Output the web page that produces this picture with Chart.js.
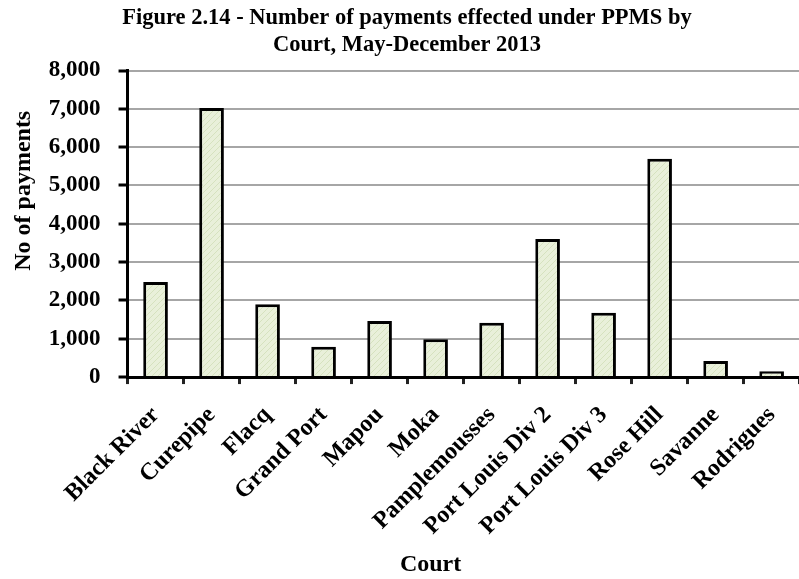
<!DOCTYPE html>
<html>
<head>
<meta charset="utf-8">
<script src="https://cdn.jsdelivr.net/npm/chart.js@4/dist/chart.umd.min.js"></script>
<style>
  html, body { margin: 0; padding: 0; background: #fff; overflow: hidden; }
  /* le graphique d'origine est coupé à droite : zone un peu plus large que la fenêtre */
  #wrap { width: 809px; height: 579px; }
</style>
</head>
<body>
<div id="wrap"><canvas id="chart"></canvas></div>
<script>
// Données
const courts = ['Black River', 'Curepipe', 'Flacq', 'Grand Port', 'Mapou', 'Moka',
  'Pamplemousses', 'Port Louis Div 2', 'Port Louis Div 3', 'Rose Hill', 'Savanne', 'Rodrigues'];
const payments = [2480, 7020, 1900, 790, 1460, 990, 1420, 3600, 1680, 5700, 420, 150];
const yTicks = [0, 1000, 2000, 3000, 4000, 5000, 6000, 7000, 8000];

const fontFamily = "'Liberation Serif', 'Times New Roman', serif";

// Motif hachuré vert pâle pour les barres
function hatch() {
  const c = document.createElement('canvas');
  c.width = 6; c.height = 6;
  const g = c.getContext('2d');
  g.fillStyle = '#e9f0da';
  g.fillRect(0, 0, 6, 6);
  g.strokeStyle = '#d6e2bf';
  g.lineWidth = 1;
  g.beginPath();
  g.moveTo(0, 6); g.lineTo(6, 0);
  g.moveTo(-3, 3); g.lineTo(3, -3);
  g.moveTo(3, 9); g.lineTo(9, 3);
  g.stroke();
  return g.createPattern(c, 'repeat');
}

const ctx = document.getElementById('chart').getContext('2d');
new Chart(ctx, {
  type: 'bar',
  data: {
    labels: courts,
    datasets: [{
      data: payments,
      backgroundColor: hatch(),
      borderColor: '#000',
      borderWidth: 3,
      barPercentage: 0.44,
      categoryPercentage: 1
    }]
  },
  options: {
    responsive: true,
    maintainAspectRatio: false,
    animation: false,
    layout: { padding: { left: 5, right: 0, top: 0, bottom: 0 } },
    plugins: {
      legend: { display: false },
      tooltip: { enabled: false },
      title: {
        display: true,
        text: ['Figure 2.14 - Number of payments effected under PPMS by', 'Court, May-December 2013'],
        color: '#000',
        font: { family: fontFamily, size: 22.5, weight: 'bold' },
        lineHeight: 1.2,
        padding: { top: 4.5, bottom: 12 }
      }
    },
    scales: {
      x: {
        offset: true,
        border: { color: '#000', width: 3 },
        grid: { display: true, drawOnChartArea: false, drawTicks: true, offset: true, tickLength: 7, color: '#222', lineWidth: 3 },
        ticks: {
          color: '#000',
          maxRotation: 45, minRotation: 45,
          padding: 17,
          font: { family: fontFamily, size: 24, weight: 'bold' }
        },
        // Chart.js compte le padding des étiquettes deux fois : on reprend un peu de hauteur
        afterFit: scale => { scale.height -= 8.5; },
        title: {
          display: true,
          // espaces insécables en fin : le titre est un peu à gauche du centre
          text: 'Court' + '\u00a0'.repeat(11),
          color: '#000',
          font: { family: fontFamily, size: 24, weight: 'bold' },
          padding: { top: 1, bottom: 0 }
        }
      },
      y: {
        min: 0, max: 8000,
        border: { color: '#000', width: 3 },
        grid: { color: '#a6a6a6', lineWidth: 2, tickLength: 9, tickColor: '#000', tickWidth: 3 },
        afterBuildTicks: axis => { axis.ticks = yTicks.map(v => ({ value: v })); },
        afterFit: scale => { scale.width -= scale.options.ticks.padding; },
        ticks: {
          color: '#000',
          padding: 18,
          font: { family: fontFamily, size: 23, weight: 'bold' },
          callback: v => v.toLocaleString('en-US')
        },
        title: {
          display: true,
          // espaces insécables en tête : le titre est placé plus haut que le centre de l'axe
          text: '\u00a0'.repeat(11) + 'No of payments',
          color: '#000',
          font: { family: fontFamily, size: 24, weight: 'bold' },
          padding: { top: 4, bottom: 11 }
        }
      }
    }
  }
});
</script>
</body>
</html>
